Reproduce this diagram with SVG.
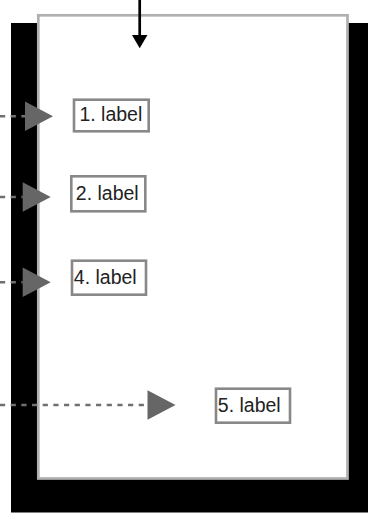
<svg xmlns="http://www.w3.org/2000/svg" width="368" height="514" viewBox="0 0 368 514">
  <style>
    .frame { fill: #ffffff; stroke: #b0b0b0; stroke-width: 2.7; }
    .box { fill: #ffffff; stroke: #888888; stroke-width: 2.6; }
    .lbl { font-family: "Liberation Sans", Arial, Helvetica, sans-serif; font-size: 19.5px; fill: #222222; }
    .dash { fill: none; stroke: #707070; stroke-width: 2.5; stroke-dasharray: 5.2 5.47; }
    .solid { fill: none; stroke: #000000; stroke-width: 2.7; }
  </style>
  <defs>
    <marker id="tri" markerUnits="userSpaceOnUse" markerWidth="28" markerHeight="30" refX="0" refY="14.75" orient="auto" overflow="visible">
      <path d="M0,0 L28,14.75 L0,29.5 Z" fill="#666666"/>
    </marker>
    <marker id="blk" markerUnits="userSpaceOnUse" markerWidth="14" markerHeight="16" refX="0" refY="7.75" orient="auto" overflow="visible">
      <path d="M0,0 L13.3,7.75 L0,15.5 Z" fill="#000000"/>
    </marker>
  </defs>

  <g id="background">
    <rect x="11" y="23" width="357" height="489.5" fill="#000000"/>
  </g>

  <g id="container">
    <rect class="frame" x="38.3" y="15.3" width="309.2" height="463.2"/>
  </g>

  <g id="connectors">
    <path class="solid" d="M139.7,0 L139.7,35" marker-end="url(#blk)"/>
    <path class="dash" d="M0,116.3 L25,116.3" marker-end="url(#tri)"/>
    <path class="dash" d="M0,197 L22.7,197" marker-end="url(#tri)"/>
    <path class="dash" d="M0,282.3 L22.7,282.3" marker-end="url(#tri)"/>
    <path class="dash" d="M0,405 L147.5,405" marker-end="url(#tri)"/>
  </g>

  <g id="node1">
    <rect class="box" x="74" y="99.7" width="74.7" height="31.6"/>
    <text class="lbl" x="79.4" y="121">1. label</text>
  </g>
  <g id="node2">
    <rect class="box" x="71.3" y="176.3" width="74" height="35"/>
    <text class="lbl" x="75.8" y="200.3">2. label</text>
  </g>
  <g id="node4">
    <rect class="box" x="72" y="260.7" width="74" height="34"/>
    <text class="lbl" x="73.8" y="284.3">4. label</text>
  </g>
  <g id="node5">
    <rect class="box" x="216" y="388.7" width="74" height="34"/>
    <text class="lbl" x="217.8" y="412.3">5. label</text>
  </g>
</svg>
